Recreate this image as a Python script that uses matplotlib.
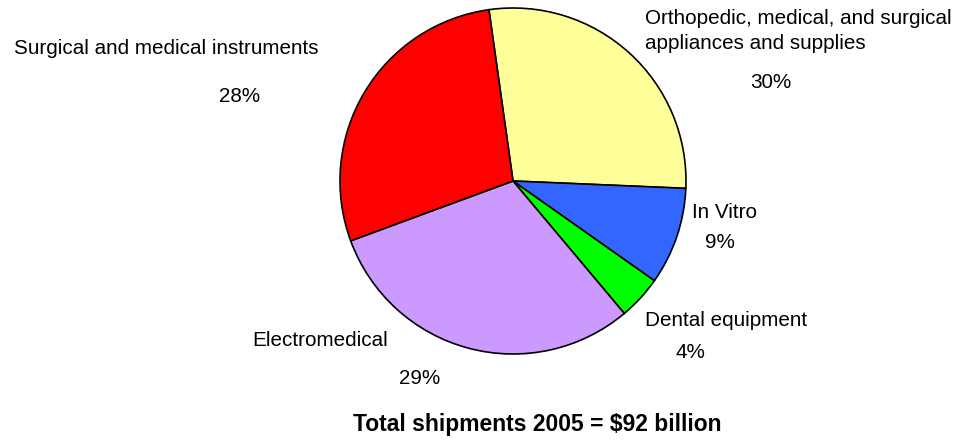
import matplotlib.pyplot as plt

plt.rcParams['font.family'] = ['Liberation Sans', 'DejaVu Sans']

categories = ['Orthopedic, medical, and surgical\nappliances and supplies',
              'In Vitro', 'Dental equipment', 'Electromedical',
              'Surgical and medical instruments']
# slice sizes as drawn in the picture
shares = [27.9, 9.1, 4.1, 30.5, 28.4]
pct_labels = ['30%', '9%', '4%', '29%', '28%']
colors = ['#FFFF99', '#3366FF', '#00FF00', '#CC99FF', '#FF0000']
title = 'Total shipments 2005 = $92 billion'

W, H = 961, 445
fig = plt.figure(figsize=(W / 100, H / 100), dpi=100)
ax = fig.add_axes([0, 0, 1, 1])

ax.pie(shares, colors=colors, startangle=98, counterclock=False,
       center=(513, H - 181), radius=173,
       wedgeprops=dict(edgecolor='black', linewidth=1.2))
ax.set_xlim(0, W)
ax.set_ylim(0, H)
ax.set_aspect('equal')
ax.axis('off')

# label layout (pixel coords from top-left)
name_pos = [(645, 31, 'left'), (692, 213, 'left'), (645, 321, 'left'),
            (388, 340, 'right'), (318, 49, 'right')]
pct_pos = [(771, 83), (720, 243), (690, 352), (420, 379), (240, 97)]

fs = 14.9
for name, (x, y, ha), pct, (px, py) in zip(categories, name_pos, pct_labels, pct_pos):
    ax.text(x, H - y, name, ha=ha, va='center', fontsize=fs, linespacing=1.42)
    ax.text(px, H - py, pct, ha='center', va='center', fontsize=fs)

ax.text(537, H - 425, title, ha='center', va='center', fontsize=16.5, fontweight='bold')

fig.savefig('out.png', dpi=100)
